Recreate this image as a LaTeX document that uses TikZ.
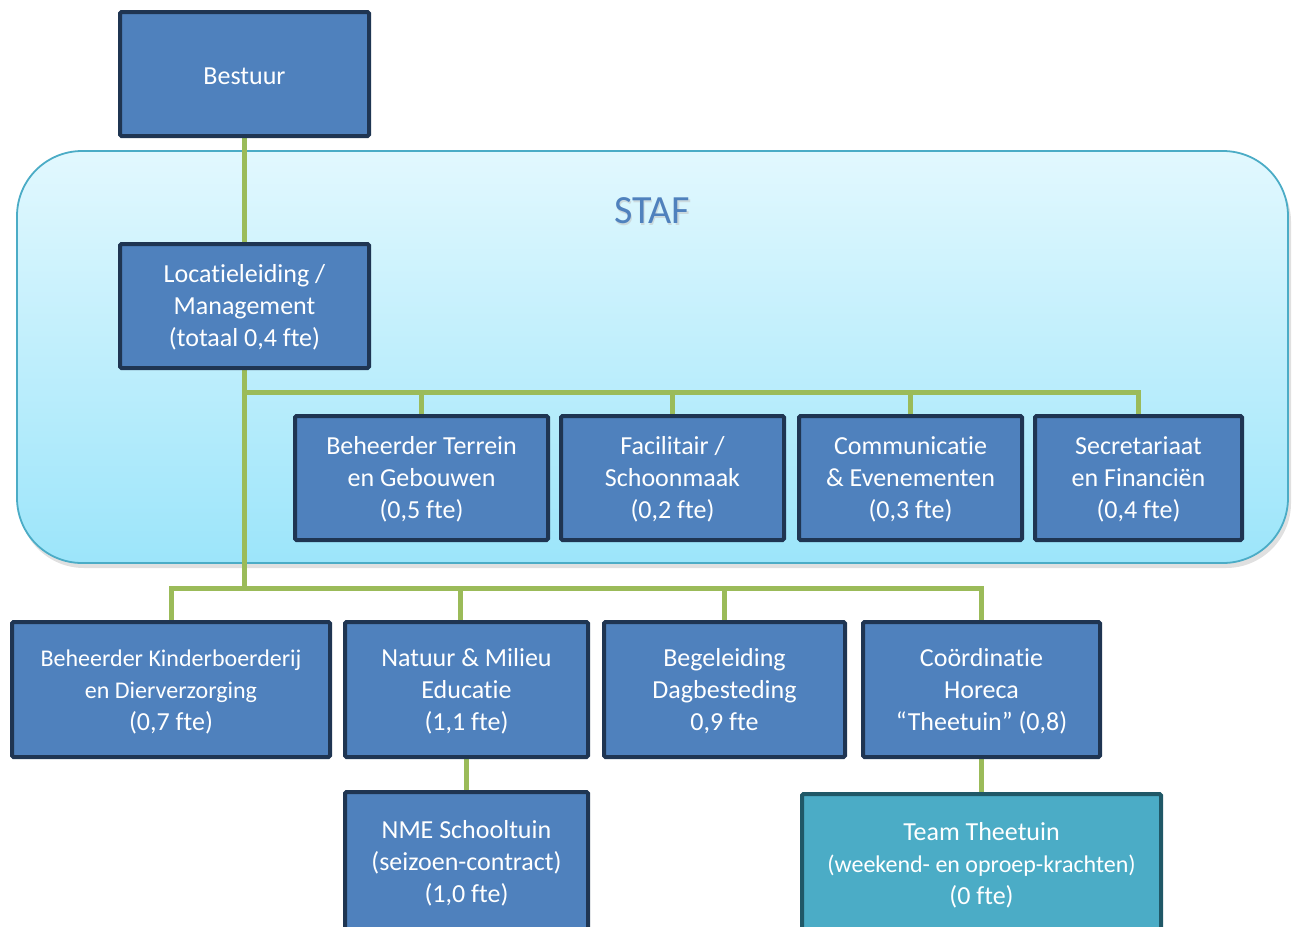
\documentclass[tikz,border=0pt]{standalone}
\usepackage{fontspec}
\setmainfont{Carlito}[Ligatures={NoCommon}]
\usetikzlibrary{positioning}
\definecolor{boxblue}{HTML}{4F81BD}
\definecolor{boxborder}{HTML}{1F3552}
\definecolor{teamfill}{HTML}{4BACC6}
\definecolor{teamborder}{HTML}{205867}
\definecolor{conngreen}{HTML}{9BBB59}
\definecolor{staftop}{HTML}{E2F8FE}
\definecolor{stafbot}{HTML}{9CE5FA}
\definecolor{stafline}{HTML}{4BACC6}
\definecolor{staftext}{HTML}{4F81BD}
\pgfdeclarelayer{bg}
\pgfdeclarelayer{mid}
\pgfsetlayers{bg,mid,main}
\tikzset{
  orgbox/.style={rectangle, draw=boxborder, line width=4pt, fill=boxblue, rounded corners=1.5pt,
    text=white, align=center, inner sep=0pt, font=\fontsize{26}{32}\selectfont},
  teambox/.style={orgbox, draw=teamborder, fill=teamfill},
  conn/.style={draw=conngreen, line width=5pt}
}
\newcommand{\sm}{\fontsize{24}{32}\selectfont}
\newcommand{\dn}{\rule{0pt}{21pt}}
\begin{document}
\begin{tikzpicture}[x=1pt,y=-1pt]
\useasboundingbox (0,0) rectangle (1295,926);
\begin{pgfonlayer}{bg}
  \fill[black, opacity=0.12, rounded corners=65pt] (19,157) rectangle (1291,568);
  \shade[top color=staftop, bottom color=stafbot, rounded corners=65pt] (17,151) rectangle (1288,563);
  \draw[stafline, line width=1.8pt, rounded corners=65pt] (17,151) rectangle (1288,563);
\end{pgfonlayer}
\node[text=black!25, opacity=0.5, font=\fontsize{40}{44}\selectfont] (staflabelshadow) at (653.5,212.5) {STAF};
\node[text=staftext, font=\fontsize{40}{44}\selectfont] (staflabel) at (652,211) {STAF};

\node[orgbox, minimum width=249pt, minimum height=124pt] (best) at (244.5,74) {\dn Bestuur};
\node[orgbox, minimum width=249pt, minimum height=124pt] (loc) at (244.5,306) {\dn Locatieleiding /\\Management\\(totaal 0,4 fte)};

\node[orgbox, minimum width=253pt, minimum height=124pt] (terrein) at (421.5,478) {\dn Beheerder Terrein\\en Gebouwen\\(0,5 fte)};
\node[orgbox, minimum width=223pt, minimum height=124pt] (facil) at (672.5,478) {\dn Facilitair /\\Schoonmaak\\(0,2 fte)};
\node[orgbox, minimum width=223pt, minimum height=124pt] (comm) at (910.5,478) {\dn Communicatie\\\&{} Evenementen\\(0,3 fte)};
\node[orgbox, minimum width=207pt, minimum height=124pt] (secr) at (1138.5,478) {\dn Secretariaat\\en Financiën\\(0,4 fte)};

\node[orgbox, minimum width=318pt, minimum height=135pt] (kinder) at (171,689.5) {\dn{\sm Beheerder Kinderboerderij}\\{\sm en Dierverzorging}\\(0,7 fte)};
\node[orgbox, minimum width=243pt, minimum height=135pt] (natuur) at (466.5,689.5) {\dn Natuur \&{} Milieu\\Educatie\\(1,1 fte)};
\node[orgbox, minimum width=241pt, minimum height=135pt] (begel) at (724.5,689.5) {\dn Begeleiding\\Dagbesteding\\0,9 fte};
\node[orgbox, minimum width=237pt, minimum height=135pt] (coord) at (981.5,689.5) {\dn Coördinatie\\Horeca\\“Theetuin” (0,8)};

\node[orgbox, minimum width=243pt, minimum height=140pt] (nme) at (466.5,862) {\dn NME Schooltuin\\(seizoen-contract)\\(1,0 fte)};
\node[teambox, minimum width=359pt, minimum height=140pt] (team) at (981.5,864) {\dn Team Theetuin\\{\sm (weekend- en oproep-krachten)}\\(0 fte)};

\coordinate (sb) at (244.5,392);
\coordinate (bb) at (244.5,588);
\begin{pgfonlayer}{mid}
  \draw[conn] (best) -- (loc);
  \draw[conn] (loc.south) -- (bb);
  \draw[conn] (sb) -- (secr.north |- sb) -- (secr.north);
  \draw[conn] (terrein.north |- sb) -- (terrein.north);
  \draw[conn] (facil.north |- sb) -- (facil.north);
  \draw[conn] (comm.north |- sb) -- (comm.north);
  \draw[conn] (kinder.north) -- (kinder.north |- bb) -- (coord.north |- bb) -- (coord.north);
  \draw[conn] ([xshift=-6.5pt]natuur.north |- bb) -- ([xshift=-6.5pt]natuur.north);
  \draw[conn] (begel.north |- bb) -- (begel.north);
  \draw[conn] (natuur) -- (nme);
  \draw[conn] (coord) -- (team);
\end{pgfonlayer}
\end{tikzpicture}
\end{document}
